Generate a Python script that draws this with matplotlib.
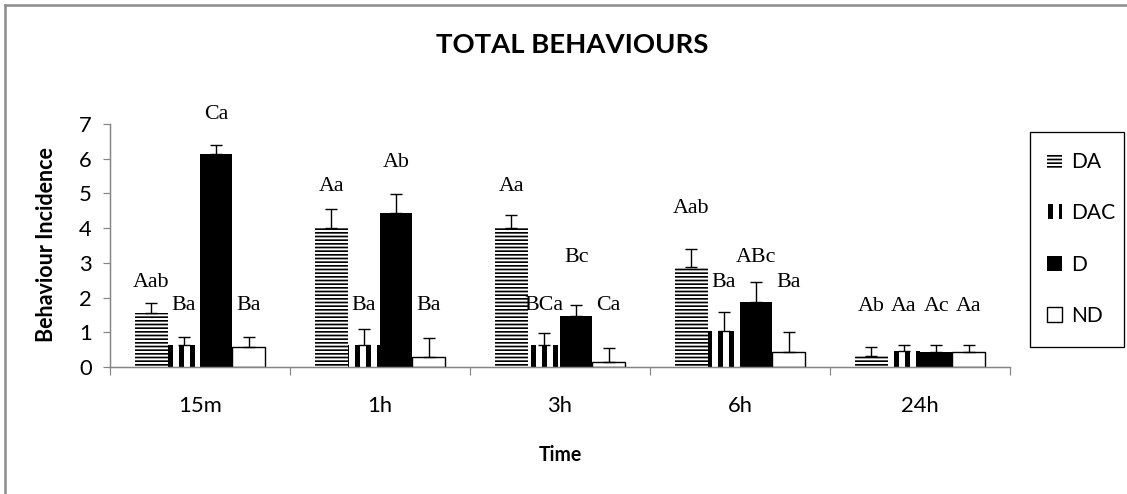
import numpy as np
import matplotlib
matplotlib.use("Agg")
import matplotlib.pyplot as plt
from matplotlib.patches import Patch, Rectangle
from matplotlib.lines import Line2D

# data
times = ["15m", "1h", "3h", "6h", "24h"]
series = ["DA", "DAC", "D", "ND"]

da = [1.55, 4.0, 4.0, 2.88, 0.32]
da_err = [0.29, 0.56, 0.38, 0.52, 0.26]
dac = [0.63, 0.62, 0.63, 1.04, 0.46]
dac_err = [0.24, 0.48, 0.35, 0.54, 0.17]
d = [6.14, 4.44, 1.47, 1.87, 0.43]
d_err = [0.26, 0.54, 0.31, 0.58, 0.2]
nd = [0.58, 0.3, 0.14, 0.43, 0.43]
nd_err = [0.29, 0.53, 0.41, 0.57, 0.2]

# significance letters and the height they sit at
da_lab = ["Aab", "Aa", "Aa", "Aab", "Ab"]
da_lab_y = [2.42, 5.19, 5.19, 4.58, 1.73]
dac_lab = ["Ba", "Ba", "BCa", "Ba", "Aa"]
dac_lab_y = [1.76, 1.76, 1.76, 2.42, 1.73]
d_lab = ["Ca", "Ab", "Bc", "ABc", "Ac"]
d_lab_y = [7.26, 5.9, 3.14, 3.14, 1.73]
nd_lab = ["Ba", "Ba", "Ca", "Ba", "Aa"]
nd_lab_y = [1.76, 1.76, 1.76, 2.42, 1.73]

W, H, DPI = 1127, 494, 66
PX = 72 / DPI  # points per pixel
SANS = ["Lato", "DejaVu Sans"]
SERIF = ["Liberation Serif", "DejaVu Serif"]
GRAY = "#868686"

fig = plt.figure(figsize=(W / DPI, H / DPI), dpi=DPI)
ax = fig.add_axes([110 / W, 1 - 367 / H, 900 / W, 243 / H])

x = np.arange(len(times))
w = 0.18
offsets = [-1.5 * w, -0.5 * w, 0.5 * w, 1.5 * w]

styles = [
    dict(color="white", edgecolor="black", linewidth=0, hatch="---", hlw=1.7 * PX),
    dict(color="white", edgecolor="black", linewidth=0, hatch="|", hlw=5.0 * PX),
    dict(color="black", edgecolor="black", linewidth=0, hatch=None, hlw=1.0),
    dict(color="white", edgecolor="black", linewidth=1.4 * PX, hatch=None, hlw=1.0),
]
values = [da, dac, d, nd]
errors = [da_err, dac_err, d_err, nd_err]
labels = [da_lab, dac_lab, d_lab, nd_lab]
label_y = [da_lab_y, dac_lab_y, d_lab_y, nd_lab_y]


def set_hlw(patch, lw):
    if hasattr(patch, "set_hatch_linewidth"):
        patch.set_hatch_linewidth(lw)


handles = []
for name, vals, errs, labs, ly, off, st in zip(series, values, errors, labels,
                                               label_y, offsets, styles):
    plt.rcParams["hatch.linewidth"] = st["hlw"]
    bars = ax.bar(x + off, vals, w, color=st["color"], edgecolor=st["edgecolor"],
                  linewidth=st["linewidth"], hatch=st["hatch"], zorder=2)
    for b in bars:
        set_hlw(b, st["hlw"])
    ax.errorbar(x + off, vals, yerr=[np.zeros(len(vals)), errs], fmt="none",
                ecolor="black", elinewidth=1.4 * PX, capsize=6 * PX,
                capthick=1.4 * PX, zorder=3)
    for xi, lab, yy in zip(x + off, labs, ly):
        ax.text(xi, yy, lab, ha="center", va="center", family=SERIF,
                fontsize=22 * PX, clip_on=False)
    handles.append(Patch(facecolor=st["color"], edgecolor=st["edgecolor"],
                         linewidth=st["linewidth"], hatch=st["hatch"], label=name))

ax.set_xlim(-0.5, len(times) - 0.5)
ax.set_ylim(0, 7)
ax.set_yticks(range(0, 8))
ax.set_xticks(np.arange(-0.5, len(times), 1))
ax.set_xticklabels([])
ax.set_xticks(x, minor=True)
ax.set_xticklabels(times, minor=True, family=SANS, fontsize=22 * PX)
ax.tick_params(axis="x", which="major", length=8 * PX, color=GRAY, width=1.2 * PX)
ax.tick_params(axis="x", which="minor", length=0, pad=29 * PX)
ax.tick_params(axis="y", length=7 * PX, color=GRAY, width=1.2 * PX,
               pad=11 * PX, labelsize=22 * PX)
for t in ax.get_yticklabels():
    t.set_family(SANS)
for s in ["top", "right"]:
    ax.spines[s].set_visible(False)
for s in ["left", "bottom"]:
    ax.spines[s].set_color(GRAY)
    ax.spines[s].set_linewidth(1.5 * PX)

fig.text(572 / W, 1 - 45 / H, "TOTAL BEHAVIOURS", ha="center", va="center",
         family=SANS, fontweight="bold", fontsize=27.5 * PX)
fig.text(47 / W, 1 - 245 / H, "Behaviour Incidence", ha="center", va="center",
         rotation=90, family=SANS, fontweight="bold", fontsize=21.5 * PX)
fig.text(560 / W, 1 - 455 / H, "Time", ha="center", va="center",
         family=SANS, fontweight="bold", fontsize=19.5 * PX)

# legend entries without frame, box drawn separately
leg = fig.legend(handles=handles, loc="upper left",
                 bbox_to_anchor=(1047 / W, 1 - 152 / H), borderaxespad=0,
                 frameon=False, borderpad=0,
                 handlelength=0.72, handleheight=0.72, handletextpad=0.45,
                 labelspacing=1.49,
                 prop={"family": SANS, "size": 21 * PX})
for p, st in zip(leg.get_patches(), styles):
    set_hlw(p, st["hlw"])
fig.add_artist(Rectangle((1030 / W, 1 - 347 / H), 94 / W, 215 / H,
                         transform=fig.transFigure, fill=False,
                         edgecolor="black", linewidth=1.3 * PX))

# grey chart-area border, left and top edges only
fig.add_artist(Line2D([5 / W, 5 / W], [0, 1 - 5 / H], color="#8c8c8c",
                      linewidth=2.5 * PX, transform=fig.transFigure))
fig.add_artist(Line2D([5 / W, 1], [1 - 5 / H, 1 - 5 / H], color="#8c8c8c",
                      linewidth=2.5 * PX, transform=fig.transFigure))

fig.savefig("out.png", dpi=DPI)
